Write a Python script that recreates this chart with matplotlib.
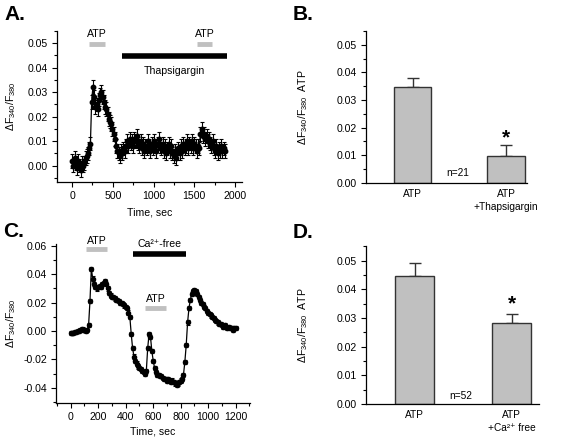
import numpy as np
import matplotlib
matplotlib.use("Agg")
import matplotlib.pyplot as plt
from matplotlib.ticker import MultipleLocator, FormatStrFormatter

plt.rcParams['font.family'] = ['Liberation Sans', 'DejaVu Sans']
plt.rcParams['mathtext.default'] = 'regular'
plt.rcParams['axes.unicode_minus'] = False

# ---------------- data ----------------
# Panel A: trace sampled every 15 s
a_step = 15
a_vals = [0.002, 0.000, 0.003, 0.001, -0.001, 0.002, 0.000, -0.002, 0.001, 0.000,
          0.001, 0.003, 0.004, 0.005, 0.007, 0.009,
          0.026, 0.032, 0.028, 0.024, 0.025, 0.023, 0.027, 0.029, 0.030, 0.028,
          0.026, 0.024, 0.023, 0.021, 0.019, 0.018, 0.017, 0.015, 0.013, 0.011,
          0.008, 0.006, 0.005, 0.004, 0.006, 0.005, 0.007, 0.006, 0.008, 0.010,
          0.008, 0.011, 0.009, 0.010, 0.008, 0.011, 0.010, 0.012, 0.009, 0.008,
          0.010, 0.007, 0.009, 0.006, 0.008, 0.007, 0.010, 0.008, 0.006, 0.009,
          0.007, 0.010, 0.008, 0.006, 0.009, 0.011, 0.008, 0.007, 0.009, 0.006,
          0.008, 0.005, 0.007, 0.009, 0.006, 0.008, 0.005, 0.004, 0.006, 0.003,
          0.005, 0.007, 0.005, 0.008, 0.006, 0.009, 0.007, 0.008, 0.010, 0.007,
          0.009, 0.008, 0.010, 0.007, 0.009, 0.008, 0.006, 0.008, 0.007, 0.013,
          0.015, 0.012, 0.013, 0.011, 0.012, 0.010, 0.011, 0.009, 0.008, 0.010,
          0.007, 0.006, 0.008, 0.005, 0.007, 0.006, 0.008, 0.006, 0.007, 0.006]
a_err = 0.0028

# Panel C: trace sampled every 10 s
c_step = 10
c_vals = [-0.0015, -0.0014, -0.0012, -0.0008, -0.0005, -0.0002, 0.0002, 0.0008, 0.0012, 0.0010,
          0.0005, 0.0002, 0.0005, 0.004, 0.021, 0.044, 0.037, 0.033, 0.031, 0.030,
          0.031, 0.032, 0.031, 0.033, 0.034, 0.035, 0.033, 0.030, 0.027, 0.025,
          0.024, 0.024, 0.023, 0.022, 0.022, 0.021, 0.020, 0.020, 0.019, 0.018,
          0.017, 0.016, 0.013, 0.010, -0.002, -0.012, -0.018, -0.021, -0.023, -0.025,
          -0.026, -0.027, -0.028, -0.029, -0.030, -0.028, -0.012, -0.002, -0.004, -0.014,
          -0.021, -0.026, -0.029, -0.031, -0.031, -0.032, -0.032, -0.033, -0.034, -0.034,
          -0.035, -0.034, -0.035, -0.036, -0.035, -0.036, -0.037, -0.038, -0.037, -0.036,
          -0.035, -0.034, -0.031, -0.022, -0.010, 0.006, 0.016, 0.022, 0.026, 0.028,
          0.029, 0.028, 0.026, 0.024, 0.022, 0.020, 0.019, 0.017, 0.016, 0.014,
          0.0125, 0.012, 0.011, 0.010, 0.009, 0.008, 0.007, 0.006, 0.005, 0.005,
          0.004, 0.003, 0.004, 0.003, 0.002, 0.003, 0.002, 0.002, 0.001, 0.002,
          0.002]
c_err = 0.0015

# Panel B bars
b_labels = ['ATP', 'ATP\n+Thapsigargin']
b_vals = [0.0347, 0.0097]
b_errs = [0.0031, 0.0040]
b_n = 'n=21'

# Panel D bars
d_labels = ['ATP', 'ATP\n+Ca²⁺ free']
d_vals = [0.0447, 0.0282]
d_errs = [0.0043, 0.0033]
d_n = 'n=52'

# stimulus bars (start, end) in seconds
a_atp1 = (212, 405)
a_atp2 = (1530, 1718)
a_thaps = (610, 1906)
c_atp1 = (111, 266)
c_atp2 = (540, 693)
c_cafree = (451, 838)

FS = 7.6

# ---------------- figure ----------------
fig = plt.figure(figsize=(5.63, 4.40), dpi=100)

def px_axes(l, r, t, b):
    W, H = 563.0, 440.0
    return fig.add_axes([l / W, 1 - b / H, (r - l) / W, (b - t) / H])

def style(ax):
    for s in ['top', 'right']:
        ax.spines[s].set_visible(False)
    for s in ['left', 'bottom']:
        ax.spines[s].set_linewidth(0.9)
    ax.tick_params(which='major', direction='out', length=3.5, width=0.8, labelsize=FS, pad=3)
    ax.tick_params(which='minor', direction='out', length=2, width=0.8)

GRAY = '#c0c0c0'
ylab = 'ΔF$_{340}$/F$_{380}$'

# ---- Panel A ----
axA = px_axes(57, 242, 31, 182)
style(axA)
a_t = np.arange(len(a_vals)) * a_step
axA.errorbar(a_t, a_vals, yerr=a_err, fmt='-o', color='black', ms=3.2, lw=0.9,
             elinewidth=0.8, capsize=1.6, capthick=0.8)
axA.set_xlim(-185, 2085)
axA.set_ylim(-0.0067, 0.055)
axA.xaxis.set_major_locator(MultipleLocator(500))
axA.xaxis.set_minor_locator(MultipleLocator(250))
axA.yaxis.set_major_locator(MultipleLocator(0.01))
axA.yaxis.set_minor_locator(MultipleLocator(0.005))
axA.yaxis.set_major_formatter(FormatStrFormatter('%.2f'))
axA.set_xlabel('Time, sec', fontsize=FS)
axA.xaxis.set_label_coords(0.5, -0.168)
axA.set_ylabel(ylab, fontsize=FS)
axA.yaxis.set_label_coords(-0.21, 0.5)
axA.plot(a_atp1, [0.0497, 0.0497], color=GRAY, lw=3.5, solid_capstyle='butt', clip_on=False)
axA.plot(a_atp2, [0.0497, 0.0497], color=GRAY, lw=3.5, solid_capstyle='butt', clip_on=False)
axA.plot(a_thaps, [0.0449, 0.0449], color='black', lw=4, solid_capstyle='butt', clip_on=False)
axA.text(np.mean(a_atp1), 0.0537, 'ATP', ha='center', va='center', fontsize=FS)
axA.text(np.mean(a_atp2), 0.0537, 'ATP', ha='center', va='center', fontsize=FS)
axA.text(np.mean(a_thaps), 0.0388, 'Thapsigargin', ha='center', va='center', fontsize=FS)

# ---- bar panels ----
def bar_panel(ax, labels, vals, errs, ntext, npos, star_y):
    style(ax)
    x = np.arange(len(vals))
    ax.bar(x, vals, width=0.4, color=GRAY, edgecolor='#333333', linewidth=1.0, zorder=2)
    ax.errorbar(x, vals, yerr=[np.zeros(len(errs)), errs], fmt='none', ecolor='#333333',
                elinewidth=1.0, capsize=4, capthick=1.0, zorder=1)
    ax.set_xticks(x)
    ax.set_xticklabels(labels, fontsize=7.3, linespacing=1.35)
    ax.tick_params(axis='x', length=0, pad=4.5)
    ax.yaxis.set_major_locator(MultipleLocator(0.01))
    ax.yaxis.set_minor_locator(MultipleLocator(0.005))
    ax.yaxis.set_major_formatter(FormatStrFormatter('%.2f'))
    ax.text(npos[0], npos[1], ntext, ha='center', va='center', fontsize=7.3)
    ax.text(1, star_y, '*', ha='center', va='center', fontsize=15, fontweight='bold')
    ax.set_ylabel(ylab + '  ATP', fontsize=FS)

axB = px_axes(366, 527, 31, 182.7)
bar_panel(axB, b_labels, b_vals, b_errs, b_n, (0.487, 0.0035), 0.0163)
axB.set_xlim(-0.5, 1.225)
axB.set_ylim(0, 0.055)
axB.yaxis.set_label_coords(-0.348, 0.5)

# ---- Panel C ----
axC = px_axes(56, 250, 244, 402.7)
style(axC)
c_t = np.arange(len(c_vals)) * c_step
axC.errorbar(c_t, c_vals, yerr=c_err, fmt='-o', color='black', ms=3.0, lw=0.9,
             elinewidth=0.8, capsize=1.5, capthick=0.8)
axC.set_xlim(-107, 1304)
axC.set_ylim(-0.0506, 0.0614)
axC.xaxis.set_major_locator(MultipleLocator(200))
axC.xaxis.set_minor_locator(MultipleLocator(100))
axC.yaxis.set_major_locator(MultipleLocator(0.02))
axC.yaxis.set_minor_locator(MultipleLocator(0.01))
axC.yaxis.set_major_formatter(FormatStrFormatter('%.2f'))
axC.set_xlabel('Time, sec', fontsize=FS)
axC.xaxis.set_label_coords(0.5, -0.147)
axC.set_ylabel(ylab, fontsize=FS)
axC.yaxis.set_label_coords(-0.196, 0.5)
axC.plot(c_atp1, [0.0579, 0.0579], color=GRAY, lw=3.5, solid_capstyle='butt', clip_on=False)
axC.plot(c_cafree, [0.0546, 0.0546], color='black', lw=4, solid_capstyle='butt', clip_on=False)
axC.plot(c_atp2, [0.016, 0.016], color=GRAY, lw=3.5, solid_capstyle='butt', clip_on=False)
axC.text(np.mean(c_atp1), 0.0637, 'ATP', ha='center', va='center', fontsize=FS)
axC.text(np.mean(c_cafree), 0.0614, 'Ca²⁺-free', ha='center', va='center', fontsize=FS)
axC.text(np.mean(c_atp2), 0.0226, 'ATP', ha='center', va='center', fontsize=FS)

# ---- Panel D ----
axD = px_axes(366, 539, 246, 404)
bar_panel(axD, d_labels, d_vals, d_errs, d_n, (0.47, 0.0029), 0.0350)
axD.set_xlim(-0.5, 1.28)
axD.set_ylim(0, 0.0551)
axD.yaxis.set_label_coords(-0.324, 0.5)

# panel letters
for lbl, x, y in [('A.', 4, 14), ('B.', 293, 14), ('C.', 3, 231), ('D.', 293, 232)]:
    fig.text(x / 563.0, 1 - y / 440.0, lbl, fontsize=15, fontweight='bold',
             ha='left', va='center')

fig.savefig('out.png', dpi=100)
